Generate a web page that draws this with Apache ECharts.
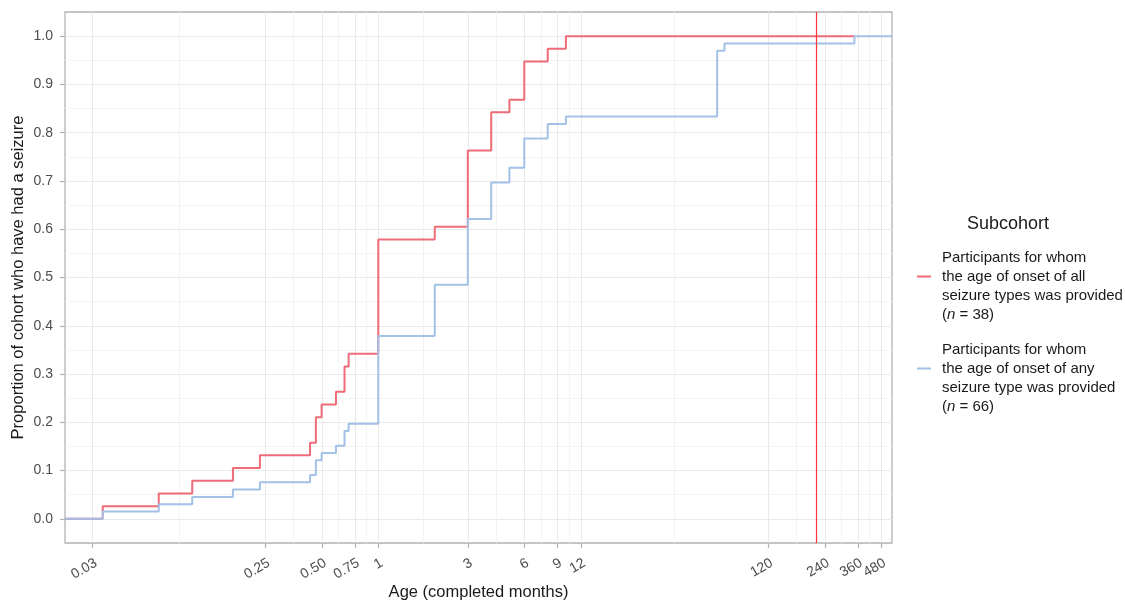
<!DOCTYPE html>
<html><head><meta charset="utf-8">
<script src="https://cdn.jsdelivr.net/npm/echarts@6/dist/echarts.min.js"></script>
<style>html,body{margin:0;padding:0;background:#fff}#c{width:1125px;height:603px}</style>
</head><body><div id="c"></div>
<script>
// ---- data (age in completed months, cumulative number of participants with a seizure) ----
const allTypesAge   = [0.034, 0.0676, 0.102, 0.168, 0.234, 0.433, 0.465, 0.499, 0.595, 0.661, 0.695, 1, 2, 3, 4, 5, 6, 8, 10, 345];
const allTypesCount = [1, 2, 3, 4, 5, 6, 8, 9, 10, 12, 13, 22, 23, 29, 32, 33, 36, 37, 38, 38];
const allTypesN = 38;
const anyTypeAge    = [0.034, 0.0676, 0.102, 0.168, 0.234, 0.433, 0.465, 0.499, 0.595, 0.661, 0.695, 1, 2, 3, 4, 5, 6, 8, 10, 64, 70, 345];
const anyTypeCount  = [1, 2, 3, 4, 5, 6, 8, 9, 10, 12, 13, 25, 32, 41, 46, 48, 52, 54, 55, 64, 65, 66];
const anyTypeN = 66;
const seriesNames = [
  'Participants for whom\nthe age of onset of all\nseizure types was provided\n(n = 38)',
  'Participants for whom\nthe age of onset of any\nseizure type was provided\n(n = 66)'
];
const xTickValues = [0.03, 0.25, 0.5, 0.75, 1, 3, 6, 9, 12, 120, 240, 360, 480];
const xTickLabels = ['0.03', '0.25', '0.50', '0.75', '1', '3', '6', '9', '12', '120', '240', '360', '480'];
const yTickValues = [0, 0.1, 0.2, 0.3, 0.4, 0.5, 0.6, 0.7, 0.8, 0.9, 1.0];
const yTickLabels = ['0.0', '0.1', '0.2', '0.3', '0.4', '0.5', '0.6', '0.7', '0.8', '0.9', '1.0'];
const yMinorValues = [0.05, 0.15, 0.25, 0.35, 0.45, 0.55, 0.65, 0.75, 0.85, 0.95];
const adultAge = 216;
const xMin = 0.0214, xMax = 547;
const yMin = -0.05, yMax = 1.05;

// minor vertical grid lines halfway (in log space) between labelled ticks
const xMinorValues = xTickValues.slice(1).map((v, i) => Math.sqrt(v * xTickValues[i]));
// the last label sits very close to its neighbour; it is drawn by the second (minor-grid) axis
// so that the automatic overlap removal of one axis does not drop either of them
const xLabelsMain = xTickValues.slice(0, -1);
const xLabelsLast = xTickValues.slice(-1);

function buildSteps(ages, counts, n, extendTo) {
  const pts = [[xMin, 0]];
  ages.forEach((a, i) => pts.push([a, counts[i] / n]));
  if (extendTo) pts.push([extendTo, counts[counts.length - 1] / n]);
  return pts;
}
const redData = buildSteps(allTypesAge, allTypesCount, allTypesN, null);
const blueData = buildSteps(anyTypeAge, anyTypeCount, anyTypeN, xMax);

const FONT = '"Liberation Sans", Arial, Helvetica, sans-serif';
const gridMajor = '#e9e9e9', gridMinor = '#f3f3f3', frame = '#b3b3b3';

function xLabelFormatter(v) {
  let best = 0;
  xTickValues.forEach((t, i) => { if (Math.abs(Math.log(t) - Math.log(v)) < Math.abs(Math.log(xTickValues[best]) - Math.log(v))) best = i; });
  return xTickLabels[best];
}
const xLabelStyle = {
  rotate: 30, margin: 13, fontSize: 14, color: '#4d4d4d', fontFamily: FONT,
  align: 'right', verticalAlign: 'top', hideOverlap: false, interval: 0,
  showMinLabel: true, showMaxLabel: true, formatter: xLabelFormatter
};

const chart = echarts.init(document.getElementById('c'), null, {renderer: 'canvas'});
chart.setOption({
  animation: false,
  backgroundColor: '#ffffff',
  textStyle: {fontFamily: FONT},
  title: {
    text: 'Subcohort', left: 967, top: 215, padding: 0,
    textStyle: {fontSize: 18, fontWeight: 'normal', color: '#1a1a1a', fontFamily: FONT}
  },
  legend: {
    orient: 'vertical', left: 917, top: 229, padding: 0, itemGap: -3,
    itemWidth: 14, itemHeight: 2, icon: 'rect',
    data: seriesNames,
    formatter: name => name.replace('(n', '({i|n}'),
    textStyle: {
      fontSize: 15, lineHeight: 19, color: '#1a1a1a', fontFamily: FONT, padding: [19, 0, 0, 6],
      rich: {i: {fontStyle: 'italic', fontSize: 15, lineHeight: 19, color: '#1a1a1a', fontFamily: FONT}}
    }
  },
  grid: {left: 65, right: 233, top: 12, bottom: 60, show: true, borderColor: frame, borderWidth: 1.3,
         containLabel: false, outerBoundsMode: 'none'},
  xAxis: [{
    type: 'log', logBase: 10, min: xMin, max: xMax, position: 'bottom',
    name: 'Age (completed months)', nameLocation: 'middle', nameGap: 41, nameMoveOverlap: false,
    nameTextStyle: {fontSize: 16.5, color: '#1a1a1a', fontFamily: FONT},
    axisLine: {show: false, onZero: false},
    axisTick: {show: true, length: 5, lineStyle: {color: frame, width: 1.2}, customValues: xTickValues},
    axisLabel: Object.assign({customValues: xLabelsMain}, xLabelStyle),
    splitLine: {show: true, lineStyle: {color: gridMajor, width: 1.1}}
  }, {
    type: 'log', logBase: 10, min: xMin, max: xMax, position: 'bottom',
    axisLine: {show: false, onZero: false},
    axisLabel: Object.assign({customValues: xLabelsLast}, xLabelStyle),
    axisTick: {show: false, customValues: xMinorValues},
    splitLine: {show: true, lineStyle: {color: gridMinor, width: 1}}
  }],
  yAxis: [{
    type: 'value', min: yMin, max: yMax, position: 'left',
    name: 'Proportion of cohort who have had a seizure', nameLocation: 'middle', nameGap: 38, nameMoveOverlap: false,
    nameTextStyle: {fontSize: 16.5, color: '#1a1a1a', fontFamily: FONT},
    axisLine: {show: false, onZero: false},
    axisTick: {show: true, length: 5, lineStyle: {color: frame, width: 1.2}, customValues: yTickValues},
    axisLabel: {
      customValues: yTickValues, margin: 12, fontSize: 14, color: '#4d4d4d', fontFamily: FONT,
      formatter: v => yTickLabels[Math.round(v * 10)]
    },
    splitLine: {show: true, lineStyle: {color: gridMajor, width: 1.1}}
  }, {
    type: 'value', min: yMin, max: yMax, position: 'left',
    axisLine: {show: false, onZero: false}, axisLabel: {show: false},
    axisTick: {show: false, customValues: yMinorValues},
    splitLine: {show: true, lineStyle: {color: gridMinor, width: 1}}
  }],
  series: [{
    name: seriesNames[0], type: 'line', step: 'end', symbol: 'none',
    xAxisIndex: 0, yAxisIndex: 0, data: redData,
    lineStyle: {color: '#ee6b78', width: 2}, itemStyle: {color: '#ee6b78'}, z: 3
  }, {
    name: seriesNames[1], type: 'line', step: 'end', symbol: 'none',
    xAxisIndex: 0, yAxisIndex: 0, data: blueData,
    lineStyle: {color: '#a3c1e7', width: 2}, itemStyle: {color: '#a3c1e7'}, z: 4,
    markLine: {
      silent: true, symbol: 'none', label: {show: false},
      lineStyle: {color: '#ff3535', width: 1.2, type: 'solid'},
      data: [{xAxis: adultAge}]
    }
  }]
});
</script></body></html>
